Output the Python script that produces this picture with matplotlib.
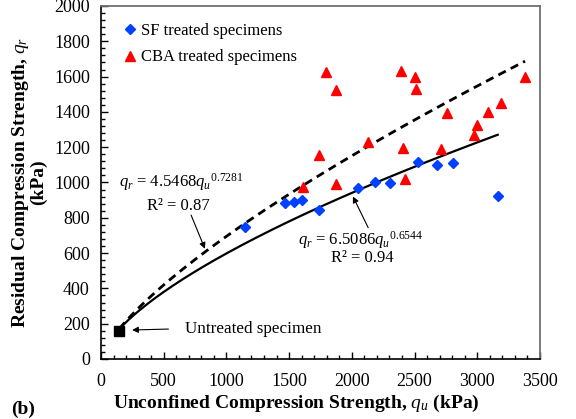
import numpy as np
import matplotlib
matplotlib.use('Agg')
import matplotlib.pyplot as plt
from matplotlib.ticker import MultipleLocator

plt.rc('font', family='Liberation Serif')
plt.rc('mathtext', fontset='custom', it='Liberation Serif:italic', rm='Liberation Serif',
       bf='Liberation Serif:bold')

# SF treated specimens
sf_qu = [1148, 1467, 1542, 1600, 1741, 2047, 2185, 2305, 2530, 2682, 2810, 3168]
sf_qr = [746, 882, 888, 901, 844, 971, 1003, 999, 1118, 1099, 1112, 923]

# CBA treated specimens
cba_qu = [1613, 1738, 1792, 1874, 1874, 2127, 2392, 2411, 2424, 2504, 2512,
          2709, 2762, 2977, 2996, 3089, 3187, 3381]
cba_qr = [976, 1156, 1628, 1524, 990, 1231, 1634, 1194, 1018, 1600, 1530,
          1188, 1392, 1269, 1326, 1401, 1452, 1600]

# untreated specimen
untreated_qu = [146]
untreated_qr = [159]

# power-law fits
sf_a, sf_b, sf_end = 6.5086, 0.6544, 3163
cba_a, cba_b, cba_end = 4.5468, 0.7281, 3381

fig = plt.figure(figsize=(5.76, 4.19), dpi=100)
ax = fig.add_axes([0.1753, 0.1432, 0.7622, 0.8425])

q1 = np.linspace(untreated_qu[0], sf_end, 200)
q2 = np.linspace(untreated_qu[0], cba_end, 200)
ax.plot(q2, cba_a * q2 ** cba_b, color='black', lw=2.0, dashes=(3, 2), zorder=2)
ax.plot(q1, sf_a * q1 ** sf_b, color='black', lw=1.6, zorder=2)

ax.plot(sf_qu, sf_qr, 'D', color='#0040FF', ms=5.2, ls='none', label='SF treated specimens', zorder=3)
ax.plot(cba_qu, cba_qr, '^', color='#FF0000', ms=7.5, ls='none', label='CBA treated specimens', zorder=3)
ax.plot(untreated_qu, untreated_qr, 's', color='black', ms=6.5, ls='none', zorder=4)

ax.set_xlim(0, 3500)
ax.set_ylim(0, 2000)
ax.xaxis.set_major_locator(MultipleLocator(500))
ax.xaxis.set_minor_locator(MultipleLocator(100))
ax.yaxis.set_major_locator(MultipleLocator(200))
ax.yaxis.set_minor_locator(MultipleLocator(40))
ax.tick_params(which='both', direction='in', labelsize=13, width=1)
ax.tick_params(which='major', length=5)
ax.tick_params(which='minor', length=3)
ax.tick_params(axis='x', which='major', pad=10)
ax.tick_params(axis='y', which='major', pad=8)
for s in ['top', 'right']:
    ax.spines[s].set_color('#707070')
    ax.spines[s].set_linewidth(1.3)
for s in ['left', 'bottom']:
    ax.spines[s].set_linewidth(1.2)

ax.set_xlabel('Unconfined Compression Strength, $\\mathit{q_u}$ (kPa)', fontsize=14,
              fontweight='bold')
ax.xaxis.set_label_coords(0.446, -0.097)
ax.set_ylabel('Residual Compression Strength, $\\mathit{q_r}$\n(kPa)', fontsize=14,
              fontweight='bold', linespacing=0.95)
ax.yaxis.set_label_coords(-0.122, 0.5)
fig.text(0.02, 0.013, '(b)', fontsize=14, fontweight='bold')

ax.legend(loc='upper left', frameon=False, fontsize=12, handletextpad=-0.1,
          borderaxespad=0.6, labelspacing=0.65, handlelength=1.5, bbox_to_anchor=(0.0, 1.0))

ax.annotate('', xy=(837, 610), xytext=(710, 830),
            arrowprops=dict(arrowstyle='-|>', color='black', lw=0.8, mutation_scale=9))
ax.text(140, 975, '$q_r$ = 4.5468$q_u$$^{0.7281}$', fontsize=12)
ax.text(370, 845, 'R² = 0.87', fontsize=12)

ax.annotate('', xy=(1999, 935), xytext=(2140, 730),
            arrowprops=dict(arrowstyle='-|>', color='black', lw=0.8, mutation_scale=9))
ax.text(1570, 650, '$q_r$ = 6.5086$q_u$$^{0.6544}$', fontsize=12)
ax.text(1830, 550, 'R² = 0.94', fontsize=12)

ax.annotate('', xy=(226, 164), xytext=(560, 170),
            arrowprops=dict(arrowstyle='-|>', color='black', lw=0.8, mutation_scale=9))
ax.text(670, 168, 'Untreated specimen', fontsize=12.3, va='center')

fig.savefig('out.png', dpi=100)
